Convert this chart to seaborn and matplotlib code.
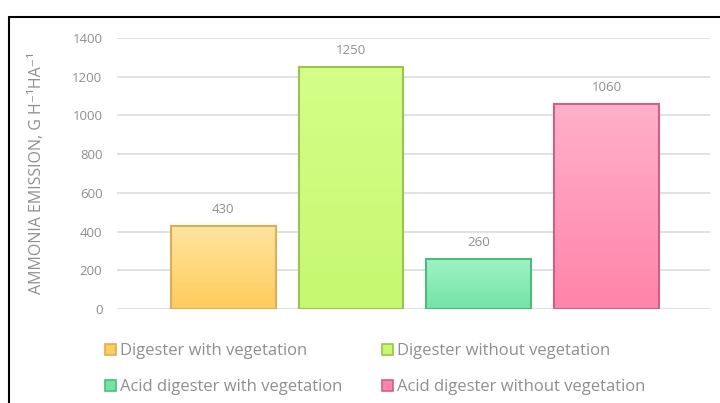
import numpy as np
import pandas as pd
import matplotlib.pyplot as plt
import matplotlib.patches as mpatches
import matplotlib.colors as mcolors
from matplotlib.lines import Line2D
import seaborn as sns

# data
categories = ["Digester with vegetation", "Digester without vegetation",
              "Acid digester with vegetation", "Acid digester without vegetation"]
emission = [430, 1250, 260, 1060]
y_ticks = [0, 200, 400, 600, 800, 1000, 1200, 1400]

# colours: (top, bottom, edge)
top_cols = ["#FFE4A0", "#D4FF88", "#A0F2C4", "#FFB0CA"]
bot_cols = ["#FFCC5C", "#C6F870", "#72E4A6", "#FF84AA"]
edge_cols = ["#DDAE55", "#9CC24F", "#4DBB80", "#CC6088"]

df = pd.DataFrame({"cat": categories, "val": emission})

sns.set_theme(style="white")
plt.rcParams['font.family'] = ['Open Sans', 'DejaVu Sans']
grey = "#8f8f8f"

fig = plt.figure(figsize=(7.2, 4.03), dpi=100)
ax = fig.add_axes([0.1625, 0.2333, 0.824, 0.6727])

sns.barplot(data=df, x="cat", y="val", hue="cat", palette=bot_cols,
            width=0.82, legend=False, ax=ax, zorder=3)

ax.set_yticks(y_ticks)
ax.set_yticklabels([str(t) for t in y_ticks], color=grey, fontsize=9.5)
ax.tick_params(axis="y", length=0, pad=10.5)
ax.set_xticks([])
ax.set_xlabel("")
ax.set_ylabel("AMMONIA EMISSION, G H\u207b\u00b9HA\u207b\u00b9", color=grey,
              fontsize=11.5)
ax.yaxis.set_label_coords(-0.121, 0.5)
for s in ax.spines.values():
    s.set_visible(False)
ax.yaxis.grid(True, color="#dcdcdc", linewidth=1.2, zorder=0)
ax.set_axisbelow(True)

# gradient fills clipped to each bar
for i, p in enumerate(ax.patches):
    x0, y0 = p.get_x(), p.get_y()
    w, h = p.get_width(), p.get_height()
    cmap = mcolors.LinearSegmentedColormap.from_list(
        "g%d" % i, [bot_cols[i], top_cols[i]])
    grad = np.linspace(0, 1, 256).reshape(-1, 1)
    im = ax.imshow(grad, cmap=cmap, origin="lower", aspect="auto",
                   extent=[x0, x0 + w, y0, y0 + h], zorder=3)
    im.set_clip_path(p)
    p.set_facecolor("none")
    p.set_edgecolor(edge_cols[i])
    p.set_linewidth(1.5)
    p.set_zorder(4)
    ax.text(x0 + w / 2, y0 + h + 50, str(emission[i]), ha="center",
            va="bottom", color=grey, fontsize=9.5)

ax.set_xlim(-0.83, 3.81)
ax.set_ylim(0, 1400)

# legend below the plot, 2 x 2
handles = [mpatches.Patch(facecolor=bot_cols[i], edgecolor=edge_cols[i],
                          linewidth=1.2, label=categories[i]) for i in range(4)]
leg = fig.legend(handles=[handles[0], handles[2], handles[1], handles[3]],
                 ncol=2, loc="upper left", bbox_to_anchor=(0.1455, 0.148),
                 frameon=False, fontsize=12, handlelength=0.65,
                 handleheight=0.65, handletextpad=0.25, columnspacing=2.42,
                 labelspacing=1.19, labelcolor=grey, borderpad=0,
                 borderaxespad=0)

# frame lines on left and top of the figure
fig.add_artist(Line2D([0.012, 0.012], [0.0, 0.958], color="black", lw=1.5))
fig.add_artist(Line2D([0.012, 1.0], [0.958, 0.958], color="black", lw=1.5))

fig.savefig("out.png", dpi=100, facecolor="white")
